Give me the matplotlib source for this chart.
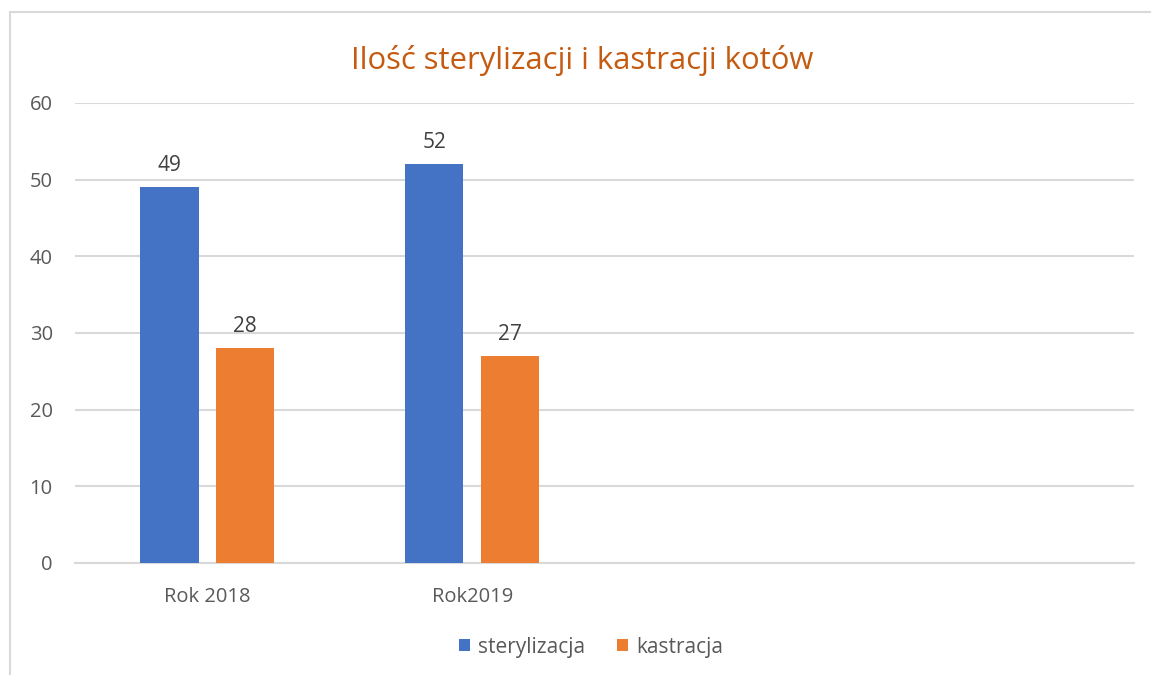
import numpy as np
from matplotlib import pyplot as plt

# ============================== Data =============================== #
categories = ["Rok 2018", "Rok2019", "", ""]
sterylizacja = [49, 52]
kastracja = [28, 27]
title = "Ilość sterylizacji i kastracji kotów"
# =================================================================== #

blue = "#4472C4"
orange = "#ED7D31"
text_grey = "#595959"
grid_grey = "#D9D9D9"

plt.rcParams['font.family'] = ['Open Sans', 'DejaVu Sans']

fig = plt.figure(figsize=(11.51, 6.75), dpi=100)
ax = fig.add_axes([75 / 1151, 1 - 563 / 675, (1134 - 75) / 1151, (563 - 103) / 675])

# outer chart frame (top and left edges, as in the screenshot)
fig.add_artist(plt.Line2D([10 / 1151, 1.0], [1 - 12 / 675, 1 - 12 / 675],
                          transform=fig.transFigure, color=grid_grey, lw=1.5))
fig.add_artist(plt.Line2D([10 / 1151, 10 / 1151], [0, 1 - 12 / 675],
                          transform=fig.transFigure, color=grid_grey, lw=1.5))

x = np.arange(len(categories))
width = 0.22
offset = 0.1435

b1 = ax.bar(x[:len(sterylizacja)] - offset, sterylizacja, width, color=blue,
            label="sterylizacja", zorder=3)
b2 = ax.bar(x[:len(kastracja)] + offset, kastracja, width, color=orange,
            label="kastracja", zorder=3)

for bars in (b1, b2):
    for rect in bars:
        ax.annotate(f"{int(rect.get_height())}",
                    (rect.get_x() + rect.get_width() / 2, rect.get_height()),
                    xytext=(0, 8), textcoords="offset points",
                    ha="center", va="bottom", fontsize=15, color="#404040")

ax.set_xlim(-0.5, len(categories) - 0.5)
ax.set_ylim(0, 60)
ax.set_yticks(range(0, 61, 10))
ax.set_xticks(x)
ax.set_xticklabels(categories)
ax.tick_params(axis="both", length=0, labelsize=14.5, labelcolor=text_grey)
ax.tick_params(axis="y", pad=16)
ax.tick_params(axis="x", pad=17)
ax.grid(axis="y", color=grid_grey, lw=1.5, zorder=0)
for side in ("top", "right", "left"):
    ax.spines[side].set_visible(False)
ax.spines["bottom"].set_color(grid_grey)
ax.spines["bottom"].set_linewidth(1.5)

fig.text(582 / 1151, 1 - 60 / 675, title, ha="center", va="center",
         fontsize=22.3, color="#C55A11")

fig.legend(handles=[b1, b2], loc="center", bbox_to_anchor=(591 / 1151, 1 - 647 / 675),
           ncol=2, frameon=False, fontsize=15, labelcolor=text_grey,
           handlelength=0.55, handleheight=0.55, handletextpad=0.4, columnspacing=1.5)

fig.savefig("out.png", dpi=100)
